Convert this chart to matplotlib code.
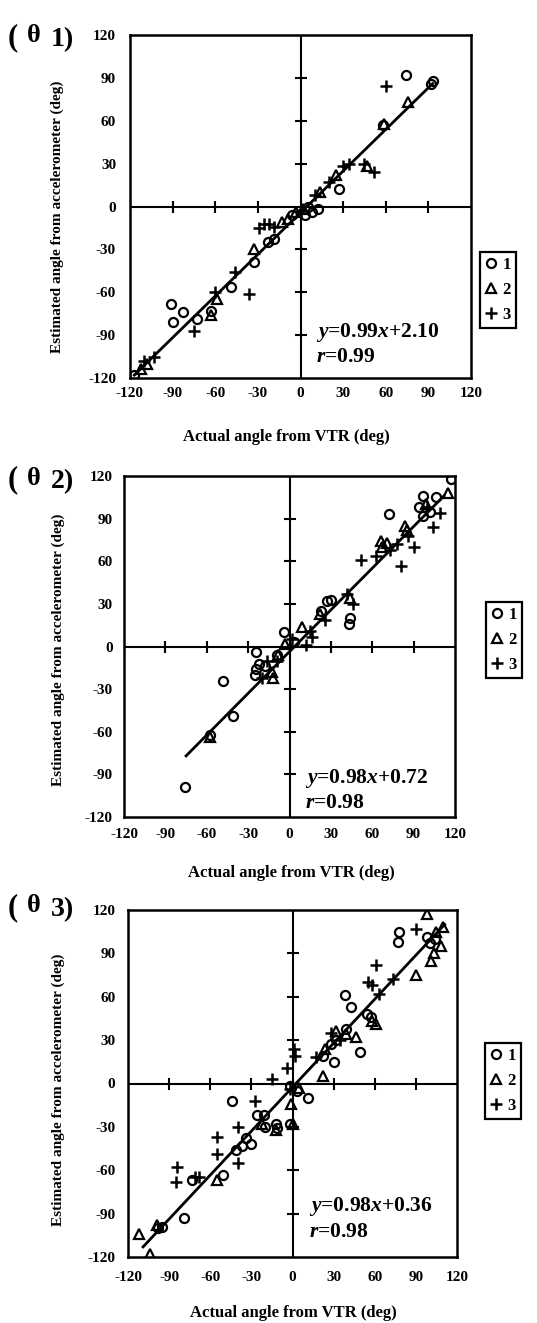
import matplotlib
matplotlib.use("Agg")
import matplotlib.pyplot as plt
import numpy as np

plt.rcParams['font.family'] = ['Liberation Serif', 'DejaVu Serif']
plt.rcParams['mathtext.fontset'] = 'custom'
plt.rcParams['mathtext.it'] = 'Liberation Serif:italic:bold'
plt.rcParams['mathtext.rm'] = 'Liberation Serif:bold'
plt.rcParams['axes.unicode_minus'] = False

ticks = [-120, -90, -60, -30, 0, 30, 60, 90, 120]
inner_ticks = [-90, -60, -30, 30, 60, 90]
xlabel = "Actual angle from VTR (deg)"
ylabel = "Estimated angle from accelerometer (deg)"
legend_labels = ["1", "2", "3"]

# ---- theta 1 ----
t1_c = [(74, 92), (92, 86), (93, 88), (58, 57), (27, 12), (5, 0), (3, -6), (8, -4),
        (-19, -23), (-23, -25), (-33, -39), (-49, -56), (-63, -73), (-91, -68),
        (-83, -74), (-90, -81), (-73, -79), (-117, -118), (-6, -6), (12, -2)]
t1_t = [(76, 73), (59, 58), (47, 28), (25, 22), (14, 10), (-9, -9), (-13, -11),
        (-33, -30), (-59, -65), (-63, -76), (-108, -110), (-112, -114), (2, -2), (-3, -4)]
t1_p = [(60, 84), (52, 24), (45, 30), (30, 28), (20, 17), (10, 8), (-29, -15),
        (-26, -12), (-22, -12), (-19, -14), (-46, -46), (-36, -61), (-60, -60),
        (-75, -87), (-103, -105), (-110, -108), (34, 30), (0, -3)]
t1_fit_x = [-117, 93]
t1_fit_y = [-118, 86]

# ---- theta 2 ----
t2_c = [(117, 118), (97, 106), (106, 105), (94, 98), (97, 92), (102, 95), (72, 93),
        (23, 25), (27, 32), (44, 20), (43, 16), (-4, 10), (3, 3), (-24, -4),
        (-24, -16), (-22, -12), (-25, -20), (-18, -14), (-48, -24), (-41, -49),
        (-58, -62), (-76, -99), (-9, -6), (30, 33)]
t2_t = [(115, 108), (84, 85), (85, 82), (66, 74), (71, 73), (67, 70), (22, 23),
        (44, 34), (9, 14), (-13, -18), (-12, -22), (-8, -6), (-58, -64), (99, 100), (-3, 2)]
t2_p = [(100, 98), (109, 94), (104, 84), (86, 78), (73, 68), (78, 72), (90, 70),
        (81, 57), (52, 61), (63, 64), (26, 19), (42, 37), (46, 30), (15, 11), (16, 7),
        (-20, -22), (-16, -10), (-9, -10), (2, 5), (12, 1)]
t2_fit_x = [-75, 112]
t2_fit_y = [-77, 106]

# ---- theta 3 ----
t3_c = [(78, 105), (77, 98), (98, 101), (100, 97), (38, 61), (43, 53), (54, 48),
        (39, 38), (49, 22), (28, 27), (32, 30), (22, 19), (30, 15), (-2, -2), (3, -5),
        (-2, -28), (11, -10), (-44, -12), (-26, -22), (-21, -22), (-20, -30),
        (-12, -28), (-11, -31), (-41, -46), (-37, -43), (-34, -38), (-30, -42),
        (-51, -63), (-73, -67), (-79, -93), (-95, -99), (-98, -100), (104, 100), (57, 46)]
t3_t = [(98, 117), (105, 105), (110, 108), (108, 95), (103, 90), (101, 85), (90, 75),
        (58, 43), (61, 41), (32, 36), (39, 34), (46, 32), (24, 24), (22, 5), (-1, -14),
        (0, -28), (-22, -28), (-12, -32), (-55, -67), (-99, -98), (-112, -104),
        (-104, -118), (5, -3)]
t3_p = [(90, 107), (61, 82), (55, 70), (58, 68), (73, 72), (63, 62), (28, 35), (17, 18),
        (1, 24), (2, 19), (-4, 11), (-15, 3), (-27, -12), (-40, -30), (-55, -37),
        (-55, -49), (-40, -55), (-84, -58), (-85, -68), (-71, -65), (-68, -65),
        (-2, -4), (35, 30)]
t3_fit_x = [-109, 111]
t3_fit_y = [-113, 110]

panels = [
    dict(name="1", c=t1_c, t=t1_t, p=t1_p, fx=t1_fit_x, fy=t1_fit_y,
         eq=r"$y$=0.99$x$+2.10", r=r"$r$=0.99",
         box=(130, 35, 471, 378), xpad=6.5, ypad=10, label_y=38,
         ylab=(57, 217), xlab=(286, 437), leg=(498, 290), eq_xy=(316, 332)),
    dict(name="2", c=t2_c, t=t2_t, p=t2_p, fx=t2_fit_x, fy=t2_fit_y,
         eq=r"$y$=0.98$x$+0.72", r=r"$r$=0.98",
         box=(124, 476, 455, 817), xpad=8, ypad=8, label_y=480,
         ylab=(58, 650), xlab=(291, 873), leg=(504, 640), eq_xy=(305, 778)),
    dict(name="3", c=t3_c, t=t3_t, p=t3_p, fx=t3_fit_x, fy=t3_fit_y,
         eq=r"$y$=0.98$x$+0.36", r=r"$r$=0.98",
         box=(128, 910, 457, 1257), xpad=10, ypad=9, label_y=908,
         ylab=(58, 1090), xlab=(293, 1313), leg=(503, 1081), eq_xy=(309, 1207)),
]

W, H = 537, 1323
fig = plt.figure(figsize=(W / 100, H / 100), dpi=100)

for pn in panels:
    x0, y0, x1, y1 = pn["box"]
    ax = fig.add_axes([x0 / W, 1 - y1 / H, (x1 - x0) / W, (y1 - y0) / H])
    ax.set_xlim(-120, 120)
    ax.set_ylim(-120, 120)
    for s in ax.spines.values():
        s.set_linewidth(1.8)
    ax.set_xticks(ticks)
    ax.set_yticks(ticks)
    ax.tick_params(axis='x', length=0, pad=pn["xpad"], labelsize=11)
    ax.tick_params(axis='y', length=0, pad=pn["ypad"], labelsize=11)
    for lb in ax.get_xticklabels() + ax.get_yticklabels():
        lb.set_fontweight('bold')

    # centre cross with tick marks
    ax.axhline(0, color='black', lw=1.5, zorder=1)
    ax.axvline(0, color='black', lw=1.5, zorder=1)
    ax.plot(inner_ticks, np.zeros(len(inner_ticks)), ls='none', marker='|',
            ms=9, mew=1.5, color='black')
    ax.plot(np.zeros(len(inner_ticks)), inner_ticks, ls='none', marker='_',
            ms=9, mew=1.5, color='black')

    # regression line
    ax.plot(pn["fx"], pn["fy"], color='black', lw=2.0, zorder=2)

    c = np.array(pn["c"])
    t = np.array(pn["t"])
    p = np.array(pn["p"])
    h1, = ax.plot(c[:, 0], c[:, 1], ls='none', marker='o', ms=6.5, mfc='none',
                  mec='black', mew=1.6, zorder=3)
    h2, = ax.plot(t[:, 0], t[:, 1], ls='none', marker='^', ms=6.5, mfc='none',
                  mec='black', mew=1.6, zorder=3)
    h3, = ax.plot(p[:, 0], p[:, 1], ls='none', marker='+', ms=8, mec='black',
                  mew=1.8, zorder=3)

    ex, ey = pn["eq_xy"]
    fig.text(ex / W, 1 - ey / H, pn["eq"], fontsize=15.5, fontweight='bold',
             ha='left', va='center')
    fig.text(ex / W, 1 - (ey + 25) / H, pn["r"], fontsize=15.5, fontweight='bold',
             ha='left', va='center')

    lx, ly = pn["leg"]
    leg = ax.legend([h1, h2, h3], legend_labels, loc='center',
                    bbox_to_anchor=(lx / W, 1 - ly / H), bbox_transform=fig.transFigure,
                    frameon=True, fancybox=False, edgecolor='black', framealpha=1,
                    handlelength=0.7, handletextpad=0.3, borderpad=0.3,
                    labelspacing=0.55, borderaxespad=0, prop=dict(weight='bold', size=12))
    leg.get_frame().set_linewidth(1.6)

    # panel label "(θ n)"
    by = 1 - pn["label_y"] / H
    fig.text(8 / W, by, "(", fontsize=22, fontweight='bold', va='center', ha='left')
    fig.text(27 / W, by + 2 / H, "θ", fontsize=19, fontweight='bold', va='center', ha='left')
    fig.text(51 / W, by - 2 / H, pn["name"] + ")", fontsize=20, fontweight='bold',
             va='center', ha='left')

    xl, yl = pn["xlab"]
    fig.text(xl / W, 1 - yl / H, xlabel, fontsize=12, fontweight='bold',
             ha='center', va='center')
    yx, yy = pn["ylab"]
    fig.text(yx / W, 1 - yy / H, ylabel, fontsize=11, fontweight='bold',
             ha='center', va='center', rotation=90)

fig.savefig("out.png", dpi=100)
